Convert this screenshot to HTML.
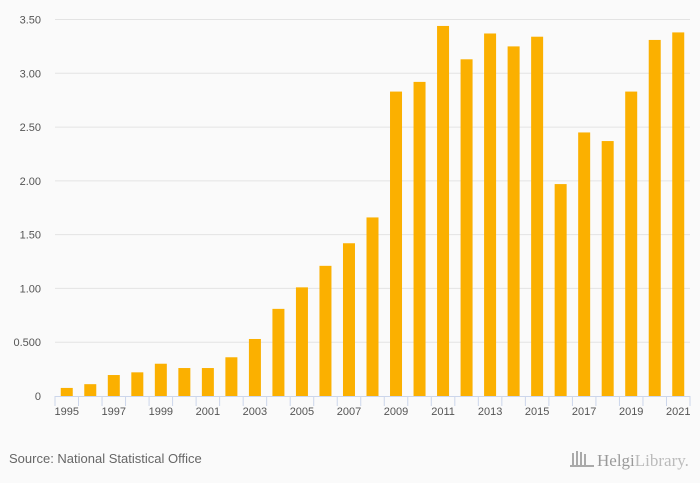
<!DOCTYPE html>
<html><head><meta charset="utf-8"><style>
body{margin:0;background:#fafafa;font-family:"Liberation Sans",sans-serif;}
svg{display:block}
</style></head><body>
<svg width="700" height="483">
<rect width="700" height="483" fill="#fafafa"/>
<g id="grid"></g><g id="bars"></g><g id="axis"></g>
<text x="9" y="463" font-size="13" fill="#666">Source: National Statistical Office</text>
<g>
<g fill="#aaa"><rect x="572" y="453" width="2" height="12"/><rect x="576" y="451" width="2" height="14"/><rect x="580" y="452" width="2" height="13"/><rect x="584" y="454" width="2" height="11"/><rect x="570" y="465" width="24" height="2"/></g>
<text x="597" y="466" font-size="17" fill="#999" font-family="Liberation Serif,serif">Helgi<tspan fill="#bbb">Library.</tspan></text>
</g>
</svg>
<script>
const years=[1995,1996,1997,1998,1999,2000,2001,2002,2003,2004,2005,2006,2007,2008,2009,2010,2011,2012,2013,2014,2015,2016,2017,2018,2019,2020,2021];
const values=[0.075,0.11,0.195,0.22,0.30,0.26,0.26,0.36,0.53,0.81,1.01,1.21,1.42,1.66,2.83,2.92,3.44,3.13,3.37,3.25,3.34,1.97,2.45,2.37,2.83,3.31,3.38];
const yTicks=[0,0.5,1,1.5,2,2.5,3,3.5];
const yTickLabels=["0","0.500","1.00","1.50","2.00","2.50","3.00","3.50"];
const NS="http://www.w3.org/2000/svg";
const x0=55,x1=690,y0=396,yTop=19.5,yMax=3.5;
const step=(x1-x0)/years.length;
const ys=v=>y0-(v/yMax)*(y0-yTop);
const xc=i=>x0+step*(i+0.5);
function mk(t,a,p){const e=document.createElementNS(NS,t);for(const k in a)e.setAttribute(k,a[k]);p.appendChild(e);return e;}
const grid=document.getElementById('grid'),bars=document.getElementById('bars'),axis=document.getElementById('axis');
yTicks.forEach((v,i)=>{
 if(v>0){const l=mk('line',{x1:x0,x2:x1,y1:ys(v),y2:ys(v),stroke:'#e3e3e3','stroke-width':1},grid);
 
 }
 const t=mk('text',{x:41,y:ys(v)+4,'font-size':11,fill:'#555','text-anchor':'end'},axis);
 t.textContent=yTickLabels[i];
 
 
});
values.forEach((v,i)=>{
 const r=mk('rect',{x:xc(i)-6,y:ys(v),width:12,height:y0-ys(v),fill:'#fbb000'},bars);
 
 
});
const ax=mk('line',{x1:x0,x2:x1,y1:y0+0.5,y2:y0+0.5,stroke:'#ccd6eb'},axis);


for(let i=0;i<=years.length;i++){
 const tk=mk('line',{x1:x0+step*i,x2:x0+step*i,y1:y0,y2:y0+10,stroke:'#ccd6eb'},axis);
 
 
}
years.forEach((y,i)=>{
 if(i%2) return;
 const t=mk('text',{x:xc(i),y:y0+19,'font-size':11,fill:'#555','text-anchor':'middle'},axis);
 t.textContent=y;
 
 
});
</script>
</body></html>
